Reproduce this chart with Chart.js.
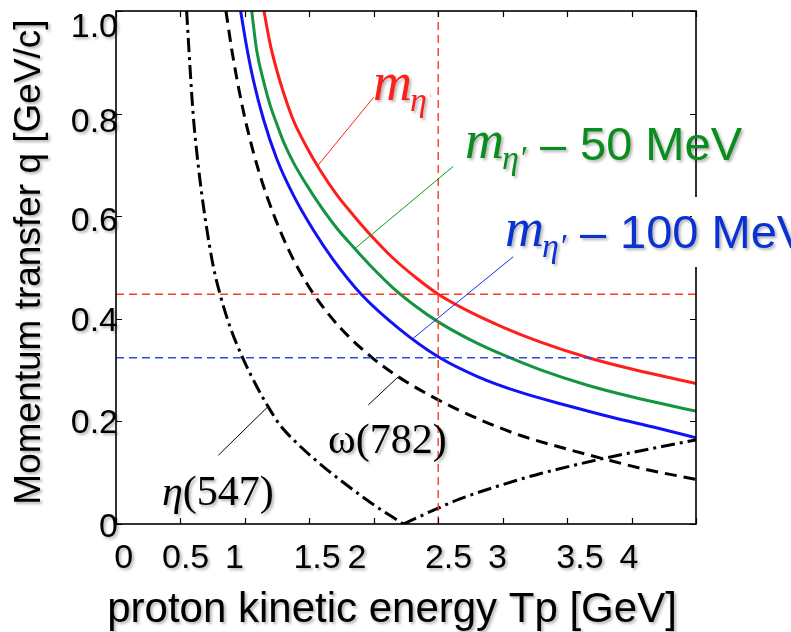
<!DOCTYPE html>
<html>
<head>
<meta charset="utf-8">
<title>Momentum transfer vs proton kinetic energy</title>
<script src="https://cdn.jsdelivr.net/npm/chart.js@4.4.0/dist/chart.umd.min.js"></script>
<style>
  html, body { margin: 0; padding: 0; background: #fff; }
  #wrap { width: 791px; height: 632px; position: relative; }
</style>
</head>
<body>
<div id="wrap"><canvas id="qChart"></canvas></div>
<script>
// values: Tp [GeV] -> q [GeV/c]
const tpEtaPrime = [1.148, 1.195, 1.247, 1.298, 1.376, 1.479, 1.583, 1.712, 1.841, 1.984, 2.151, 2.333, 2.5, 2.75, 3.0, 3.289, 3.652, 4.0, 4.5];
const qEtaPrime  = [1.0, 0.937, 0.885, 0.842, 0.787, 0.735, 0.69, 0.642, 0.602, 0.561, 0.518, 0.479, 0.448, 0.413, 0.384, 0.355, 0.325, 0.302, 0.274];

const tpMinus50 = [1.053, 1.091, 1.148, 1.195, 1.247, 1.298, 1.376, 1.479, 1.583, 1.712, 1.841, 1.984, 2.151, 2.333, 2.5, 2.75, 3.0, 3.289, 3.652, 4.0, 4.5];
const qMinus50  = [1.0, 0.924, 0.86, 0.817, 0.78, 0.746, 0.705, 0.661, 0.621, 0.577, 0.54, 0.501, 0.46, 0.423, 0.394, 0.359, 0.33, 0.301, 0.271, 0.248, 0.22];

const tpMinus100 = [0.967, 1.014, 1.066, 1.143, 1.247, 1.376, 1.531, 1.686, 1.906, 2.2, 2.5, 2.8, 3.134, 3.5, 3.832, 4.2, 4.5];
const qMinus100  = [1.0, 0.93, 0.865, 0.79, 0.712, 0.641, 0.573, 0.515, 0.447, 0.38, 0.326, 0.288, 0.257, 0.231, 0.209, 0.187, 0.168];

const tpOmega = [0.853, 0.898, 0.949, 1.014, 1.117, 1.247, 1.365, 1.427, 1.531, 1.738, 1.984, 2.19, 2.5, 2.8, 3.134, 3.5, 3.768, 4.1, 4.5];
const qOmega  = [1.0, 0.925, 0.853, 0.776, 0.68, 0.588, 0.521, 0.492, 0.449, 0.383, 0.325, 0.287, 0.242, 0.206, 0.173, 0.146, 0.128, 0.107, 0.087];

// eta(547): falls to zero, then rises again (|q|)
const tpEtaFall = [0.548, 0.574, 0.6, 0.639, 0.69, 0.755, 0.807, 0.884, 0.983, 1.092, 1.182, 1.272, 1.402, 1.608, 1.79, 1.996, 2.229];
const qEtaFall  = [1.0, 0.891, 0.794, 0.697, 0.599, 0.502, 0.448, 0.385, 0.324, 0.268, 0.228, 0.193, 0.158, 0.112, 0.076, 0.038, 0];
const tpEtaRise = [2.229, 2.5, 2.669, 3.134, 3.289, 3.768, 4.5];
const qEtaRise  = [0, 0.031, 0.049, 0.087, 0.098, 0.127, 0.164];

// reference lines
const tpBeam = 2.5;
const qAtBeamRed = 0.448;
const qAtBeamBlue = 0.324;

// axes
const xMin = 0, xMax = 4.5;
const yMin = 0, yMax = 1.0;
const xTicks = [0, 0.5, 1, 1.5, 2, 2.5, 3, 3.5, 4, 4.5];
const yTicks = [0, 0.2, 0.4, 0.6, 0.8, 1.0];
const xTickLabels = ['0', '0.5', '1', '1.5', '2', '2.5', '3', '3.5', '4'];
const xTickLabelAt = [0.06, 0.54, 0.92, 1.56, 1.87, 2.58, 2.96, 3.6, 3.98];
const yTickLabels = ['0', '0.2', '0.4', '0.6', '0.8', '1.0'];

// callout lines [fromTp, fromQ, toTp, toQ]
const calloutRed   = [1.57, 0.70, 2.0, 0.832];
const calloutGreen = [1.854, 0.537, 2.616, 0.697];
const calloutBlue  = [2.306, 0.362, 3.082, 0.521];
const calloutEta   = [1.18, 0.229, 0.794, 0.134];
const calloutOmega = [2.19, 0.287, 1.957, 0.232];

const SANS = '"Liberation Sans", Arial, sans-serif';
const SERIF = '"Liberation Serif", "Times New Roman", serif';
const RED = '#ff1f1a';
const GREEN = '#149440';
const BLUE = '#1212f5';

const pts = (xs, ys) => xs.map((x, i) => ({ x: x, y: ys[i] }));

function shadowed(ctx) {
  ctx.shadowColor = 'rgba(0,0,0,0.3)';
  ctx.shadowOffsetX = 2;
  ctx.shadowOffsetY = 2;
  ctx.shadowBlur = 3;
}

const framePlugin = {
  id: 'frame',
  afterDatasetsDraw(chart) {
    const { ctx, chartArea: a, scales: { x, y } } = chart;
    ctx.save();
    ctx.strokeStyle = '#000';
    ctx.lineWidth = 1.2;
    ctx.beginPath();
    xTicks.forEach(v => {
      const px = Math.round(x.getPixelForValue(v)) + 0.5;
      ctx.moveTo(px, a.bottom); ctx.lineTo(px, a.bottom - 6);
      ctx.moveTo(px, a.top); ctx.lineTo(px, a.top + 6);
    });
    yTicks.forEach(v => {
      const py = Math.round(y.getPixelForValue(v)) + 0.5;
      ctx.moveTo(a.left, py); ctx.lineTo(a.left + 6, py);
      ctx.moveTo(a.right, py); ctx.lineTo(a.right - 6, py);
    });
    ctx.stroke();
    ctx.lineWidth = 1.6;
    ctx.strokeRect(a.left, a.top, a.right - a.left, a.bottom - a.top);

    // thin callout lines
    const callouts = [[calloutRed, RED], [calloutGreen, '#0a9a14'], [calloutBlue, '#1030ff'], [calloutEta, '#000'], [calloutOmega, '#000']];
    ctx.lineWidth = 1;
    callouts.forEach(([c, col]) => {
      ctx.strokeStyle = col;
      ctx.beginPath();
      ctx.moveTo(x.getPixelForValue(c[0]), y.getPixelForValue(c[1]));
      ctx.lineTo(x.getPixelForValue(c[2]), y.getPixelForValue(c[3]));
      ctx.stroke();
    });
    ctx.restore();
  },
  afterDraw(chart) {
    const { ctx, chartArea: a, scales: { x, y } } = chart;
    ctx.save();
    shadowed(ctx);
    ctx.fillStyle = '#000';

    // tick labels
    ctx.font = '34px ' + SANS;
    ctx.textAlign = 'center';
    ctx.textBaseline = 'alphabetic';
    xTickLabels.forEach((t, i) => {
      ctx.fillText(t, x.getPixelForValue(xTickLabelAt[i]), a.bottom + 44);
    });
    const yNudge = [1, 0, 0, 3, 6, 14];
    ctx.textAlign = 'right';
    yTickLabels.forEach((t, i) => {
      ctx.fillText(t, a.left + 2, y.getPixelForValue(yTicks[i]) + 12 + yNudge[i]);
    });

    // axis titles
    ctx.textAlign = 'center';
    ctx.font = '42px ' + SANS;
    ctx.fillText('proton kinetic energy Tp [GeV]', 392, 622);
    ctx.save();
    ctx.translate(40, 262);
    ctx.rotate(-Math.PI / 2);
    ctx.font = '37px ' + SANS;
    ctx.fillText('Momentum transfer q [GeV/c]', 0, 0);
    ctx.restore();

    // meson labels
    ctx.textAlign = 'left';
    ctx.font = 'italic 42px ' + SERIF;
    ctx.fillText('\u03B7', 162, 505);
    const wEta = ctx.measureText('\u03B7').width;
    ctx.font = '42px ' + SERIF;
    ctx.fillText('(547)', 162 + wEta, 505);
    ctx.fillText('\u03C9(782)', 328, 453);

    // mass labels
    function massLabel(x0, base, col, rest) {
      ctx.fillStyle = col;
      ctx.font = 'italic 54px ' + SERIF;
      ctx.fillText('m', x0, base);
      const wm = ctx.measureText('m').width;
      ctx.font = 'italic 34px ' + SERIF;
      ctx.fillText('\u03B7\u2032', x0 + wm - 2, base + 11);
      if (rest) {
        ctx.font = '47px ' + SANS;
        ctx.fillText('\u2013', x0 + 75, base + 2);
        ctx.fillText(rest, x0 + 115, base + 2);
      }
    }
    ctx.save();
    ctx.beginPath();
    ctx.rect(0, 0, 431, 632);
    ctx.clip();
    massLabel(373, 100, RED, null);
    ctx.restore();

    massLabel(465, 158, '#0a8c1e', '50 MeV');

    // white box behind the blue label cuts the right frame
    ctx.save();
    ctx.shadowColor = 'transparent';
    ctx.fillStyle = '#fff';
    ctx.fillRect(a.right - 4, 197, 10, 70);
    ctx.restore();
    massLabel(505, 246, '#0a32d2', '100 MeV');
    ctx.restore();
  }
};

const curve = (data, color, dash) => ({
  data: data,
  borderColor: color,
  borderWidth: 3,
  borderDash: dash || [],
  pointRadius: 0,
  fill: false,
  cubicInterpolationMode: 'monotone'
});

const refLine = (data, color) => ({
  data: data,
  borderColor: color,
  borderWidth: 1.4,
  borderDash: [8, 5],
  pointRadius: 0,
  fill: false,
  tension: 0
});

new Chart(document.getElementById('qChart'), {
  type: 'line',
  data: {
    datasets: [
      refLine([{ x: tpBeam, y: yMin }, { x: tpBeam, y: yMax }], '#ff3a22'),
      refLine([{ x: xMin, y: qAtBeamRed }, { x: xMax, y: qAtBeamRed }], '#ff3a22'),
      refLine([{ x: xMin, y: qAtBeamBlue }, { x: xMax, y: qAtBeamBlue }], '#2a4fe0'),
      curve(pts(tpEtaPrime, qEtaPrime), RED),
      curve(pts(tpMinus50, qMinus50), GREEN),
      curve(pts(tpMinus100, qMinus100), BLUE),
      curve(pts(tpOmega, qOmega), '#000', [12, 7]),
      curve(pts(tpEtaFall, qEtaFall), '#000', [14, 5, 3, 5]),
      curve(pts(tpEtaRise, qEtaRise), '#000', [14, 5, 3, 5])
    ]
  },
  options: {
    responsive: true,
    maintainAspectRatio: false,
    animation: false,
    events: [],
    layout: { padding: { left: 116, right: 95, top: 11, bottom: 108 } },
    plugins: { legend: { display: false }, tooltip: { enabled: false } },
    scales: {
      x: { type: 'linear', min: xMin, max: xMax, display: false },
      y: { type: 'linear', min: yMin, max: yMax, display: false }
    }
  },
  plugins: [framePlugin]
});
</script>
</body>
</html>
